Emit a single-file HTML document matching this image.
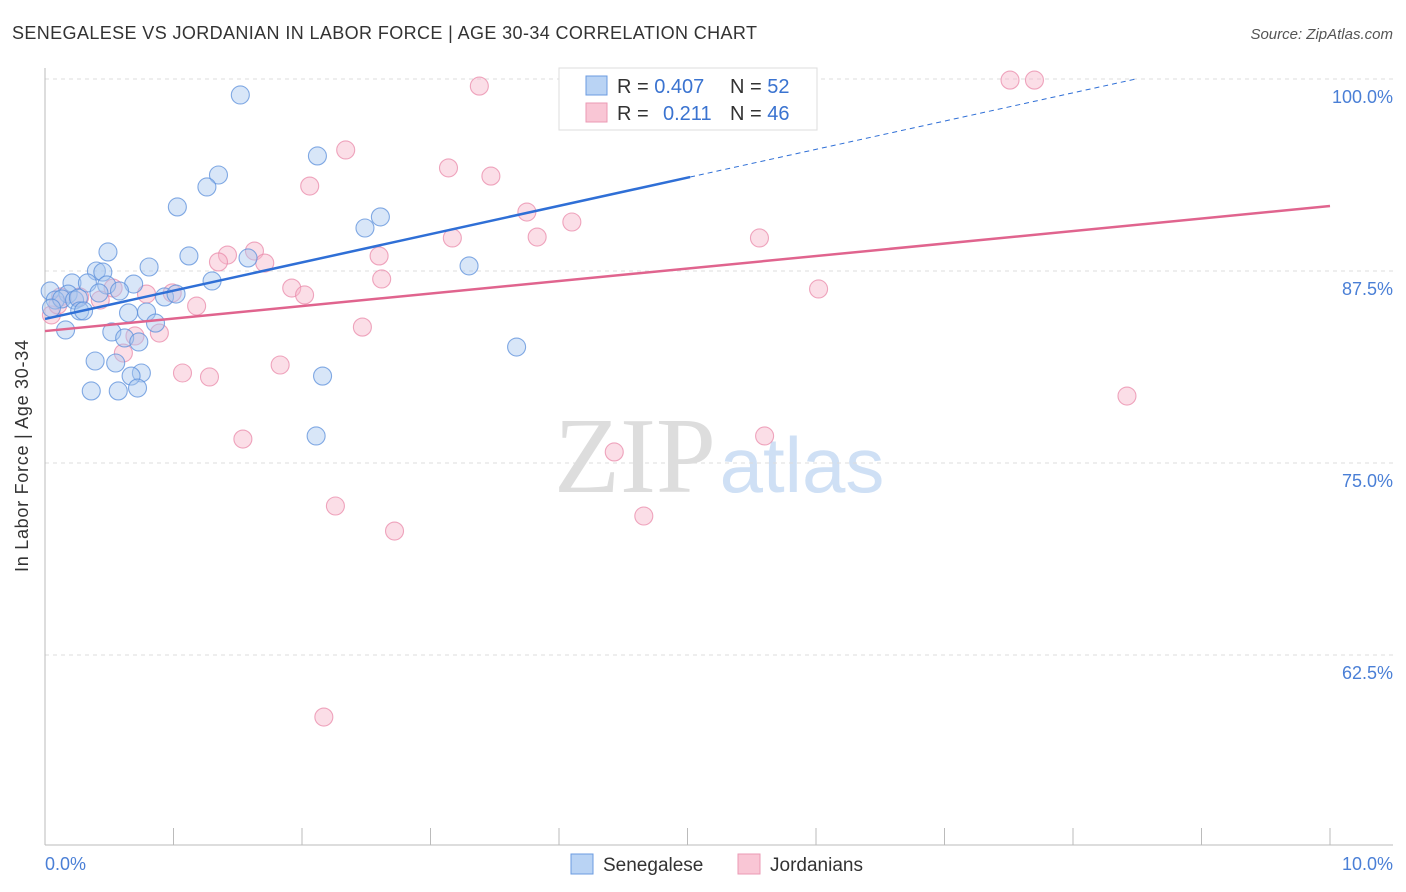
<!DOCTYPE html>
<html><head><meta charset="utf-8"><style>
body{margin:0;background:#fff;font-family:"Liberation Sans",sans-serif}
svg{display:block}
</style></head><body>
<svg id="chart" width="1406" height="892">
<text x="12" y="39" font-size="18" fill="#333" textLength="745">SENEGALESE VS JORDANIAN IN LABOR FORCE | AGE 30-34 CORRELATION CHART</text>
<text x="1393" y="39" font-size="15" fill="#555" font-style="italic" text-anchor="end">Source: ZipAtlas.com</text>
<g>
<text x="635" y="492" font-size="108" font-family="Liberation Serif,serif" fill="#ddd" text-anchor="middle">ZIP</text>
<text x="802" y="492" font-size="78" fill="#cfe0f5" text-anchor="middle">atlas</text>
</g>
<g id="grid"></g>
<g id="axes"></g>
<g id="marks"></g>
<text x="28" y="456" font-size="18" fill="#333" text-anchor="middle" textLength="232" transform="rotate(-90 28 456)">In Labor Force | Age 30-34</text>
<g>
<rect x="559" y="68" width="258" height="62" fill="#fff" stroke="#ddd"/>
<rect x="586" y="76" width="21" height="19" fill="#b9d3f4" stroke="#6b9be0"/>
<rect x="586" y="103" width="21" height="19" fill="#f9c6d5" stroke="#eb9ab4"/>
<text x="617" y="93" font-size="20" fill="#333">R = <tspan fill="#3a73d0">0.407</tspan></text>
<text x="730" y="93" font-size="20" fill="#333">N = <tspan fill="#3a73d0">52</tspan></text>
<text x="617" y="120" font-size="20" fill="#333">R = <tspan fill="#3a73d0" x="663">0.211</tspan></text>
<text x="730" y="120" font-size="20" fill="#333">N = <tspan fill="#3a73d0">46</tspan></text>
</g>
<g>
<rect x="571" y="854" width="22" height="20" fill="#b9d3f4" stroke="#6b9be0"/>
<text x="603" y="871" font-size="19" fill="#333">Senegalese</text>
<rect x="738" y="854" width="22" height="20" fill="#f9c6d5" stroke="#eb9ab4"/>
<text x="770" y="871" font-size="19" fill="#333">Jordanians</text>
</g>
</svg>
<script>
const yTicks=[100,87.5,75,62.5];
const yTickLabels=["100.0%","87.5%","75.0%","62.5%"];
const xTickCount=10;
const xLabels=["0.0%","10.0%"];
const blueX=[1.52,2.12,1.35,1.26,1.03,2.61,2.49,0.49,1.12,1.58,0.81,0.40,0.45,3.30,1.30,0.21,0.33,0.69,0.48,0.58,0.04,0.18,0.42,0.93,1.02,0.08,0.13,0.23,0.26,0.05,0.27,0.30,0.65,0.79,0.86,0.16,0.52,0.62,0.73,3.67,0.39,0.55,0.75,0.67,2.16,0.36,0.57,0.72,2.11,4.84];
const blueY=[98.96,94.99,93.75,92.97,91.67,91.02,90.30,88.74,88.48,88.35,87.76,87.50,87.43,87.83,86.85,86.72,86.72,86.65,86.59,86.20,86.20,86.00,86.07,85.81,86.00,85.61,85.68,85.61,85.74,85.09,84.90,84.90,84.77,84.83,84.11,83.66,83.53,83.14,82.88,82.55,81.64,81.51,80.86,80.66,80.66,79.69,79.69,79.88,76.76,100.07];
const pinkX=[3.38,7.51,7.70,2.34,3.14,3.47,2.06,3.75,4.10,3.17,3.83,5.56,1.63,1.42,1.35,1.71,2.60,2.62,1.92,2.02,6.02,0.79,0.99,1.18,0.43,0.53,0.12,0.05,0.27,2.47,0.89,0.70,0.61,1.83,1.07,1.28,8.42,1.54,4.43,5.60,2.26,4.66,2.72,2.17,0.10];
const pinkY=[99.54,99.93,99.93,95.38,94.21,93.68,93.03,91.34,90.69,89.65,89.71,89.65,88.80,88.54,88.09,88.02,88.48,86.98,86.39,85.94,86.33,86.00,86.07,85.22,85.61,86.39,85.81,84.64,85.81,83.85,83.46,83.27,82.16,81.38,80.86,80.60,79.36,76.56,75.72,76.76,72.20,71.55,70.57,58.46,85.29];
const blueTrend=[84.38,1.84];
const pinkTrend=[83.59,0.814];
const blueSolidEnd=5.02;

const X=v=>45+v/10*1285;
const Y=v=>79+(100-v)/12.5*192;
const NS="http://www.w3.org/2000/svg";
function mk(tag,attrs,parent){const e=document.createElementNS(NS,tag);for(const k in attrs)e.setAttribute(k,attrs[k]);parent.appendChild(e);return e;}
const grid=document.getElementById('grid'),axes=document.getElementById('axes'),marks=document.getElementById('marks');
yTicks.forEach((t,i)=>{
 const l=mk('line',{x1:45,x2:1393,y1:Y(t),y2:Y(t),stroke:'#ddd','stroke-dasharray':'4 4'},grid);
 
 
 const tx=mk('text',{x:1393,y:Y(t)+24,'font-size':18,fill:'#4a7fd6','text-anchor':'end'},axes);
 tx.textContent=yTickLabels[i];
 
 
});
const ax=mk('line',{x1:45,x2:1393,y1:845,y2:845,stroke:'#bbb'},axes);


const ay=mk('line',{x1:45,x2:45,y1:68,y2:845,stroke:'#bbb'},axes);


for(let i=0;i<=xTickCount;i++){
 const t=mk('line',{x1:X(i),x2:X(i),y1:828,y2:845,stroke:'#bbb'},axes);
 
 
}
const xl0=mk('text',{x:45,y:870,'font-size':18,fill:'#4a7fd6'},axes);xl0.textContent=xLabels[0];


const xl1=mk('text',{x:1393,y:870,'font-size':18,fill:'#4a7fd6','text-anchor':'end'},axes);xl1.textContent=xLabels[1];


function pts(xs,ys,fill,stroke,name){xs.forEach((x,i)=>{
 const c=mk('circle',{cx:X(x),cy:Y(ys[i]),r:9,fill:fill,'fill-opacity':0.45,stroke:stroke,'stroke-opacity':0.75,'stroke-width':1.1},marks);
 
 
});}
pts(pinkX,pinkY,'#f7b6ca','#e98aa9','jordanian-point');
pts(blueX,blueY,'#a9c7f0','#5b8fdb','senegalese-point');
const tr=(t,x)=>t[0]+t[1]*x;
const bl=mk('line',{x1:X(0),y1:Y(tr(blueTrend,0)),x2:X(blueSolidEnd),y2:Y(tr(blueTrend,blueSolidEnd)),stroke:'#2f6fd6','stroke-width':2.5},marks);


const xe=(100-blueTrend[0])/blueTrend[1];
const bd=mk('line',{x1:X(blueSolidEnd),y1:Y(tr(blueTrend,blueSolidEnd)),x2:X(xe),y2:Y(100),stroke:'#2f6fd6','stroke-width':1,'stroke-dasharray':'5 4'},marks);


const pl=mk('line',{x1:X(0),y1:Y(tr(pinkTrend,0)),x2:X(10),y2:Y(tr(pinkTrend,10)),stroke:'#e0648e','stroke-width':2.5},marks);


</script>
</body></html>
